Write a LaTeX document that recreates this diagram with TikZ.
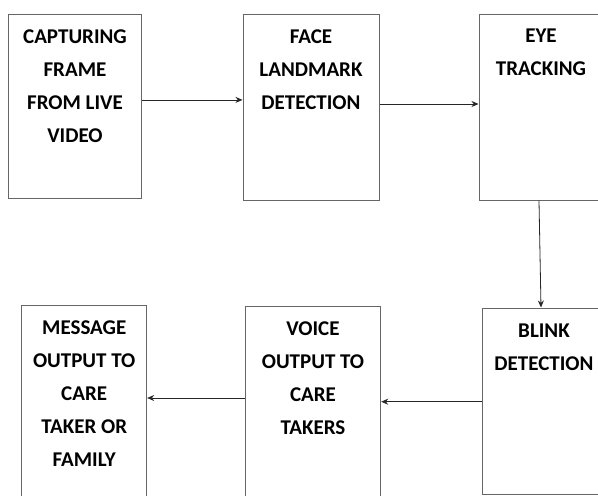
\documentclass[tikz,border=0pt]{standalone}
\usepackage{fontspec}
\setmainfont{Carlito}
\usetikzlibrary{calc, positioning, arrows.meta}

\begin{document}
\begin{tikzpicture}[x=1pt, y=1pt,
    stage/.style={draw=black!60, line width=1pt, minimum width=#1, inner sep=0pt},
    stagetext/.style={anchor=north, align=center, inner sep=0pt,
        font={\fontsize{21}{33}\selectfont\bfseries}},
    flow/.style={draw=black!85, line width=0.8pt, -{Stealth[length=7pt, width=6pt]}}]
    % Canvas
    \useasboundingbox (0,0) rectangle (598,-496);
    \clip (0,0) rectangle (598,-496);

    % Top row
    \node[stage=133pt, minimum height=184pt] (capture) at (75,-106.9) {};
    \node[stage=136pt, minimum height=186pt] (face) at (311,-107.7) {};
    \node[stage=124pt, minimum height=185.5pt] (eye) at (541,-107.3) {};

    % Bottom row
    \node[stage=124pt, minimum height=186pt] (blink) at (544,-401) {};
    \node[stage=135.4pt, minimum height=194pt] (voice) at (313,-403) {};
    \node[stage=125pt, minimum height=195pt] (message) at (84.2,-402.5) {};

    % Labels
    \node[stagetext] (captureT) at ([yshift=-15pt]capture.north) {CAPTURING\\FRAME\\FROM LIVE\\VIDEO};
    \node[stagetext] (faceT) at ([yshift=-15pt]face.north) {FACE\\LANDMARK\\DETECTION};
    \node[stagetext] (eyeT) at ([yshift=-15pt]eye.north) {EYE\\TRACKING};
    \node[stagetext] (blinkT) at ([yshift=-16pt]blink.north) {BLINK\\DETECTION};
    \node[stagetext] (voiceT) at ([yshift=-16pt]voice.north) {VOICE\\OUTPUT TO\\CARE\\TAKERS};
    \node[stagetext] (messageT) at ([yshift=-16pt]message.north) {MESSAGE\\OUTPUT TO\\CARE\\TAKER OR\\FAMILY};

    % Arrows
    \draw[flow] ([yshift=7pt]capture.east) -- ([yshift=7pt]capture.east -| face.west);
    \draw[flow] ([yshift=3.7pt]face.east) -- ([yshift=3.7pt]face.east -| eye.west);
    \draw[flow] ([xshift=-2pt]eye.south) -- ([xshift=-3pt]blink.north);
    \draw[flow] ([yshift=-0.7pt]blink.west) -- ([yshift=-0.7pt]blink.west -| voice.east);
    \draw[flow] ([yshift=5pt]voice.west) -- ([yshift=5pt]voice.west -| message.east);
\end{tikzpicture}
\end{document}
